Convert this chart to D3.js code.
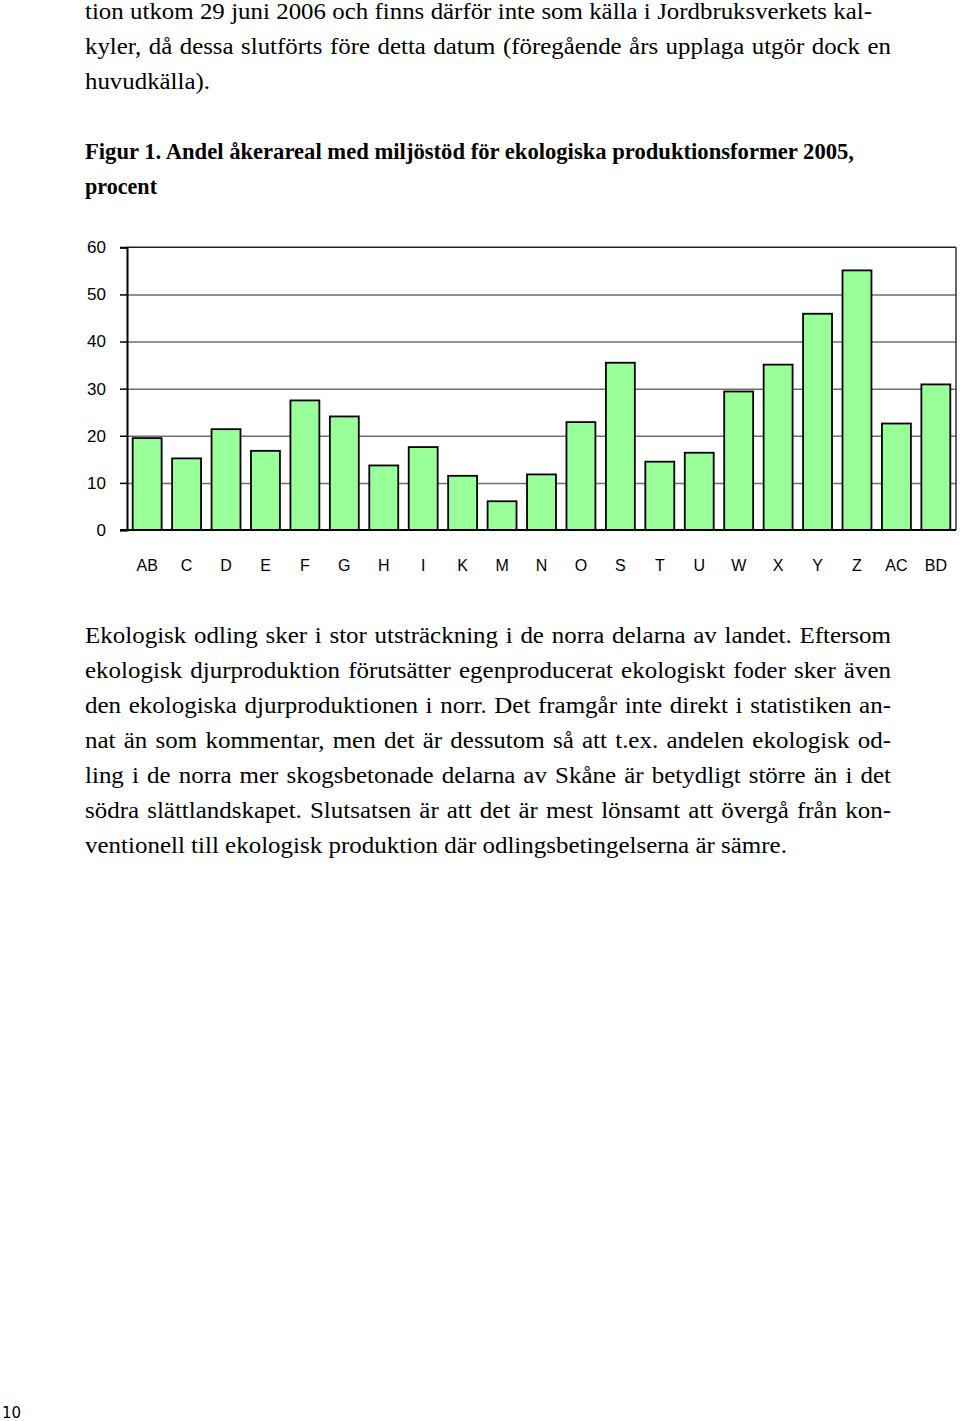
<!DOCTYPE html>
<html><head><meta charset="utf-8">
<script src="https://cdn.jsdelivr.net/npm/d3@7"></script>
<style>html,body{margin:0;padding:0;background:#fff;}svg{display:block;}</style>
</head><body>
<script>
const categories = ["AB","C","D","E","F","G","H","I","K","M","N","O","S","T","U","W","X","Y","Z","AC","BD"];
const values = [19.5,15.2,21.4,16.8,27.5,24.1,13.7,17.6,11.5,6.1,11.8,22.9,35.5,14.5,16.4,29.4,35.1,45.9,55.1,22.6,30.9];
const yTicks = [0,10,20,30,40,50,60];

const topLines = [
  {t:"tion utkom 29 juni 2006 och finns därför inte som källa i Jordbruksverkets kal-", y:19, w:787, j:true},
  {t:"kyler, då dessa slutförts före detta datum (föregående års upplaga utgör dock en", y:54, w:806, j:true},
  {t:"huvudkälla).", y:89, w:125, j:false}
];
const titleLines = [
  {t:"Figur 1. Andel åkerareal med miljöstöd för ekologiska produktionsformer 2005,", y:159, w:769},
  {t:"procent", y:194, w:72}
];
const paraLines = [
  {t:"Ekologisk odling sker i stor utsträckning i de norra delarna av landet. Eftersom", y:643, w:806, j:true},
  {t:"ekologisk djurproduktion förutsätter egenproducerat ekologiskt foder sker även", y:678, w:806, j:true},
  {t:"den ekologiska djurproduktionen i norr. Det framgår inte direkt i statistiken an-", y:713, w:806, j:true},
  {t:"nat än som kommentar, men det är dessutom så att t.ex. andelen ekologisk od-", y:748, w:806, j:true},
  {t:"ling i de norra mer skogsbetonade delarna av Skåne är betydligt större än i det", y:783, w:806, j:true},
  {t:"södra slättlandskapet. Slutsatsen är att det är mest lönsamt att övergå från kon-", y:818, w:806, j:true},
  {t:"ventionell till ekologisk produktion där odlingsbetingelserna är sämre.", y:853, w:702, j:false}
];

const W = 960, H = 1421;
const svg = d3.select("body").append("svg").attr("width", W).attr("height", H);
svg.append("rect").attr("width", W).attr("height", H).attr("fill", "#fff");
const SERIF = "'Liberation Serif','Times New Roman',serif";

// justified block: horizontal scale derived from the last (unjustified) line, word spacing fills the rest
function drawBlock(lines, fs) {
  const nodes = lines.map(l => svg.append("text")
      .attr("font-family", SERIF).attr("font-size", fs).attr("fill", "#000")
      .attr("transform", `translate(85,${l.y})`)
      .text(l.t));
  const last = lines.length - 1;
  const sx = lines[last].w / nodes[last].node().getComputedTextLength();
  lines.forEach((l, i) => {
    const n = nodes[i];
    n.attr("transform", `translate(85,${l.y}) scale(${sx},1)`);
    if (l.j) {
      const nat = n.node().getComputedTextLength();
      const spaces = (l.t.match(/ /g) || []).length;
      const ws = (l.w / sx - nat) / spaces;
      n.attr("word-spacing", ws);
    }
  });
}
drawBlock(topLines, 22.6);
drawBlock(paraLines, 22.6);

titleLines.forEach(l => {
  svg.append("text").attr("x", 85).attr("y", l.y)
    .attr("font-family", SERIF).attr("font-size", 22.6).attr("font-weight", "bold").attr("fill", "#000")
    .attr("textLength", l.w).attr("lengthAdjust", "spacingAndGlyphs").text(l.t);
});

// chart
const x0 = 127, x1 = 956, yBase = 530, yTop = 247.3;
const x = d3.scaleBand().domain(categories).range([x0, x1]).paddingInner(0.266).paddingOuter(0.144);
const y = d3.scaleLinear().domain([0, 60]).range([yBase, yTop]);

svg.append("g").attr("transform", `translate(${x0},0)`)
  .call(d3.axisLeft(y).tickValues(yTicks.filter(v => v > 0 && v < 60)).tickSize(-(x1 - x0)).tickFormat(""))
  .call(g => g.select(".domain").remove())
  .call(g => g.selectAll("line").attr("stroke", "#6e6e6e").attr("stroke-width", 1.5));

svg.append("line").attr("x1", x0).attr("x2", x1).attr("y1", y(60)).attr("y2", y(60)).attr("stroke", "#222").attr("stroke-width", 1.5);
svg.append("line").attr("x1", x1).attr("x2", x1).attr("y1", y(60)).attr("y2", y(0)).attr("stroke", "#333").attr("stroke-width", 1.5);

svg.append("g").selectAll("rect").data(categories).join("rect")
  .attr("x", d => x(d))
  .attr("y", (d, i) => y(values[i]))
  .attr("width", x.bandwidth())
  .attr("height", (d, i) => y(0) - y(values[i]))
  .attr("fill", "#99ff99")
  .attr("stroke", "#000")
  .attr("stroke-width", 1.8);

const yAxis = svg.append("g").attr("transform", `translate(${x0},0)`)
  .call(d3.axisLeft(y).tickValues(yTicks).tickSize(7).tickPadding(14));
yAxis.select(".domain").attr("stroke", "#000").attr("stroke-width", 2);
yAxis.selectAll("line").attr("stroke", "#000").attr("stroke-width", 1.5);
yAxis.selectAll("text").attr("font-family", "'Liberation Sans',Arial,sans-serif").attr("font-size", 17).attr("fill", "#000");

svg.append("line").attr("x1", 120).attr("x2", x1).attr("y1", y(0)).attr("y2", y(0)).attr("stroke", "#000").attr("stroke-width", 2);

const xAxis = svg.append("g").attr("transform", `translate(0,${y(0)})`)
  .call(d3.axisBottom(x).tickSize(0).tickPadding(30));
xAxis.select(".domain").remove();
xAxis.selectAll("text").attr("font-family", "'Liberation Sans',Arial,sans-serif").attr("font-size", 16).attr("fill", "#000");

svg.append("text").attr("x", 2).attr("y", 1418)
  .attr("font-family", "'DejaVu Sans',sans-serif").attr("font-size", 15).attr("fill", "#000").text("10");
</script>
</body></html>
